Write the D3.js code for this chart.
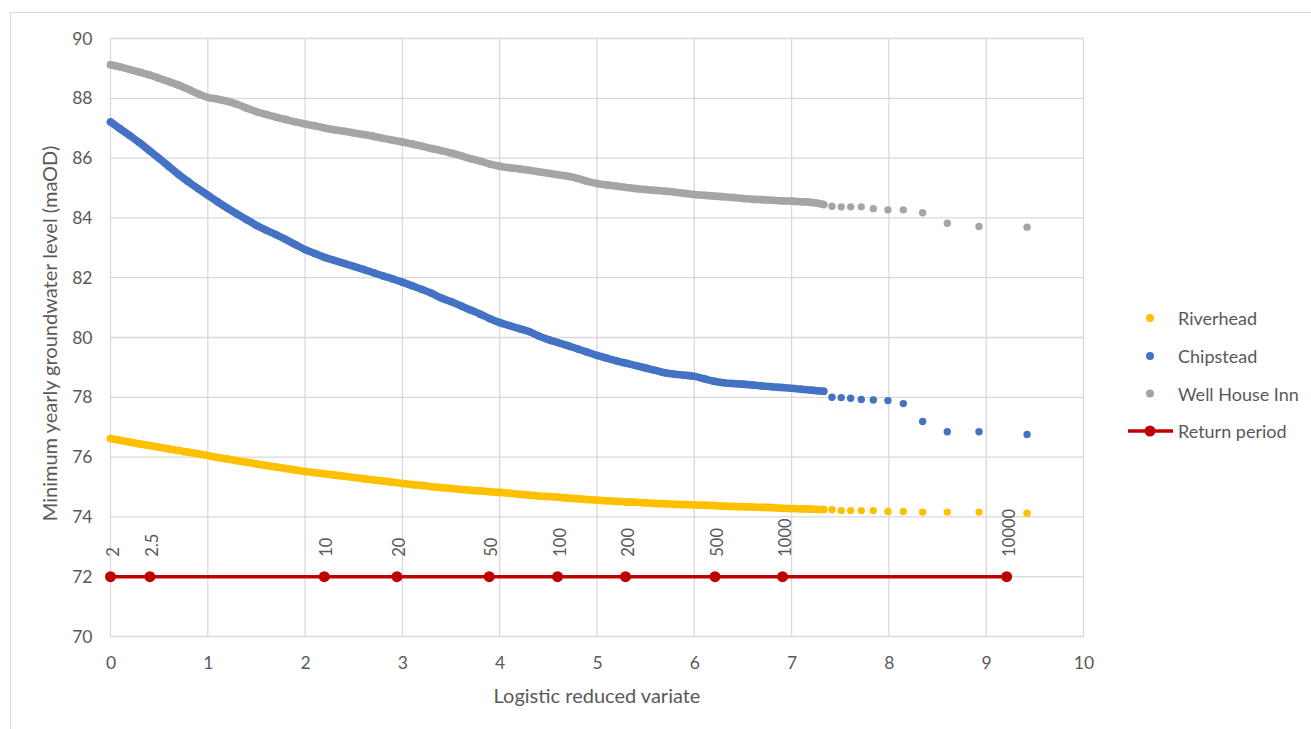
<!DOCTYPE html>
<html>
<head>
<meta charset="utf-8">
<script src="https://cdn.jsdelivr.net/npm/d3@7"></script>
<style>
    body { margin: 0; background: #fff; }
    svg { font-family: Lato, "Open Sans", sans-serif; }
</style>
</head>
<body>
<svg id="chart"></svg>
<script>
// logistic reduced variate shared by the three boreholes
const variate = [
    0, 0.1, 0.2, 0.3, 0.4, 0.5, 0.6, 0.7, 0.8, 0.9,
    1, 1.1, 1.2, 1.3, 1.4, 1.5, 1.6, 1.7, 1.8, 1.9,
    2, 2.1, 2.2, 2.3, 2.4, 2.5, 2.6, 2.7, 2.8, 2.9,
    3, 3.1, 3.2, 3.3, 3.4, 3.5, 3.6, 3.7, 3.8, 3.9,
    4, 4.1, 4.2, 4.3, 4.4, 4.5, 4.6, 4.7, 4.8, 4.9,
    5, 5.1, 5.2, 5.3, 5.4, 5.5, 5.6, 5.7, 5.8, 5.9,
    6, 6.1, 6.2, 6.3, 6.4, 6.5, 6.6, 6.7, 6.8, 6.9,
    7, 7.1, 7.2,
    7.265, 7.33,
    7.415, 7.51, 7.607, 7.716, 7.84, 7.99, 8.148, 8.347, 8.6, 8.926, 9.42
];

const riverhead = [
    76.62, 76.56, 76.50, 76.44, 76.39, 76.33, 76.27, 76.22, 76.16, 76.11,
    76.05, 75.99, 75.94, 75.88, 75.83, 75.77, 75.72, 75.67, 75.62, 75.57,
    75.52, 75.48, 75.44, 75.40, 75.36, 75.32, 75.28, 75.24, 75.20, 75.16,
    75.12, 75.08, 75.05, 75.01, 74.98, 74.95, 74.92, 74.89, 74.87, 74.84,
    74.82, 74.79, 74.76, 74.73, 74.70, 74.68, 74.66, 74.63, 74.61, 74.58,
    74.56, 74.54, 74.52, 74.50, 74.49, 74.47, 74.45, 74.44, 74.42, 74.41,
    74.40, 74.39, 74.38, 74.36, 74.35, 74.34, 74.33, 74.32, 74.31, 74.29,
    74.28, 74.27, 74.26,
    74.25, 74.25,
    74.24, 74.21, 74.21, 74.21, 74.21, 74.18, 74.18, 74.16, 74.16, 74.16, 74.12
];

const chipstead = [
    87.21, 86.98, 86.75, 86.51, 86.25, 85.99, 85.72, 85.45, 85.21, 84.98,
    84.76, 84.54, 84.33, 84.13, 83.94, 83.75, 83.59, 83.44, 83.28, 83.11,
    82.94, 82.81, 82.68, 82.58, 82.48, 82.38, 82.28, 82.17, 82.06, 81.96,
    81.85, 81.73, 81.61, 81.48, 81.32, 81.20, 81.06, 80.92, 80.78, 80.63,
    80.50, 80.40, 80.30, 80.20, 80.05, 79.93, 79.83, 79.73, 79.62, 79.51,
    79.40, 79.31, 79.22, 79.14, 79.06, 78.98, 78.90, 78.82, 78.77, 78.74,
    78.70, 78.62, 78.54, 78.49, 78.46, 78.44, 78.41, 78.38, 78.35, 78.33,
    78.30, 78.27, 78.24,
    78.22, 78.20,
    78.00, 77.99, 77.97, 77.93, 77.91, 77.89, 77.79, 77.19, 76.85, 76.85, 76.76
];

const wellHouseInn = [
    89.12, 89.05, 88.96, 88.87, 88.78, 88.67, 88.56, 88.44, 88.30, 88.15,
    88.03, 87.97, 87.90, 87.80, 87.67, 87.55, 87.46, 87.37, 87.29, 87.21,
    87.14, 87.08, 87.01, 86.95, 86.90, 86.84, 86.79, 86.73, 86.66, 86.60,
    86.54, 86.47, 86.40, 86.32, 86.25, 86.17, 86.08, 85.98, 85.90, 85.80,
    85.73, 85.68, 85.64, 85.59, 85.54, 85.49, 85.44, 85.39, 85.32, 85.22,
    85.15, 85.10, 85.06, 85.02, 84.98, 84.95, 84.92, 84.89, 84.86, 84.82,
    84.78, 84.76, 84.73, 84.71, 84.68, 84.65, 84.62, 84.61, 84.59, 84.57,
    84.56, 84.54, 84.52,
    84.49, 84.45,
    84.39, 84.37, 84.37, 84.37, 84.31, 84.27, 84.27, 84.17, 83.82, 83.71, 83.69
];

// return period markers
const returnLabels = ["2", "2.5", "10", "20", "50", "100", "200", "500", "1000", "10000"];
const returnVariates = [0, 0.405, 2.197, 2.944, 3.892, 4.595, 5.293, 6.213, 6.907, 9.21];
const returnLevel = [72, 72, 72, 72, 72, 72, 72, 72, 72, 72];

const xTicks = [0, 1, 2, 3, 4, 5, 6, 7, 8, 9, 10];
const yTicks = [70, 72, 74, 76, 78, 80, 82, 84, 86, 88, 90];

const seriesNames = ["Riverhead", "Chipstead", "Well House Inn"];
const seriesValues = [riverhead, chipstead, wellHouseInn];
const seriesColors = ["#FFC000", "#4472C4", "#A5A5A5"];
const returnColor = "#C00000";

// number of points close enough together to merge into one band
const denseCount = 75;

const width = 1311, height = 729;
const plot = { left: 110.5, right: 1083.5, top: 38.5, bottom: 636.5 };
const textColor = "#595959";
const gridColor = "#d9d9d9";

const svg = d3.select("#chart").attr("width", width).attr("height", height);

// chart border
svg.append("rect")
    .attr("x", 10.5).attr("y", 12.5)
    .attr("width", 1330).attr("height", 740)
    .attr("fill", "none").attr("stroke", gridColor);

const xScale = d3.scaleLinear().domain([0, 10]).range([plot.left, plot.right]);
const yScale = d3.scaleLinear().domain([70, 90]).range([plot.bottom, plot.top]);

// gridlines
const grid = svg.append("g");
grid.selectAll(".vgrid").data(xTicks).join("line")
    .attr("x1", d => xScale(d)).attr("x2", d => xScale(d))
    .attr("y1", plot.top).attr("y2", plot.bottom)
    .attr("stroke", gridColor).attr("stroke-width", 1.3);
grid.selectAll(".hgrid").data(yTicks).join("line")
    .attr("x1", plot.left).attr("x2", plot.right)
    .attr("y1", d => yScale(d)).attr("y2", d => yScale(d))
    .attr("stroke", gridColor).attr("stroke-width", 1.3);

// axes (labels only)
const xAxis = svg.append("g")
    .attr("transform", `translate(0, ${plot.bottom})`)
    .call(d3.axisBottom(xScale).tickValues(xTicks).tickFormat(d3.format("d")).tickSize(0).tickPadding(20));
const yAxis = svg.append("g")
    .attr("transform", `translate(${plot.left}, 0)`)
    .call(d3.axisLeft(yScale).tickValues(yTicks).tickFormat(d3.format("d")).tickSize(0).tickPadding(18));

[xAxis, yAxis].forEach(a => {
    a.select(".domain").remove();
    a.selectAll("text")
        .attr("fill", textColor)
        .style("font-size", "17.5px")
        .style("font-family", "Lato, 'Open Sans', sans-serif");
});

// axis titles
svg.append("text")
    .attr("x", (plot.left + plot.right) / 2).attr("y", 703)
    .attr("text-anchor", "middle")
    .attr("fill", textColor).style("font-size", "20px")
    .text("Logistic reduced variate");

svg.append("text")
    .attr("transform", `translate(57, ${(plot.top + plot.bottom) / 2 - 4}) rotate(-90)`)
    .attr("text-anchor", "middle")
    .attr("fill", textColor).style("font-size", "20px")
    .text("Minimum yearly groundwater level (maOD)");

// scatter series
const marks = svg.append("g");
seriesValues.forEach((values, i) => {
    const pts = variate.map((v, j) => ({ x: v, y: values[j] }));
    const g = marks.append("g");

    // dense part reads as a continuous band of overlapping dots
    g.append("path")
        .datum(pts.slice(0, denseCount))
        .attr("d", d3.line().curve(d3.curveMonotoneX).x(d => xScale(d.x)).y(d => yScale(d.y)))
        .attr("fill", "none")
        .attr("stroke", seriesColors[i])
        .attr("stroke-width", 7.6)
        .attr("stroke-linecap", "round")
        .attr("stroke-linejoin", "round");

    g.selectAll("circle").data(pts).join("circle")
        .attr("cx", d => xScale(d.x))
        .attr("cy", d => yScale(d.y))
        .attr("r", 3.7)
        .attr("fill", seriesColors[i]);
});

// return period line
const rp = returnVariates.map((v, i) => ({ x: v, y: returnLevel[i], label: returnLabels[i] }));
const rpGroup = svg.append("g");
rpGroup.append("path")
    .datum(rp)
    .attr("d", d3.line().x(d => xScale(d.x)).y(d => yScale(d.y)))
    .attr("fill", "none")
    .attr("stroke", returnColor)
    .attr("stroke-width", 3.5);
rpGroup.selectAll("circle").data(rp).join("circle")
    .attr("cx", d => xScale(d.x))
    .attr("cy", d => yScale(d.y))
    .attr("r", 5.5)
    .attr("fill", returnColor);
rpGroup.selectAll("text").data(rp).join("text")
    .attr("transform", d => `translate(${xScale(d.x) + 2}, ${yScale(d.y) - 20}) rotate(-90)`)
    .attr("dominant-baseline", "central")
    .attr("fill", textColor)
    .style("font-size", "16.5px")
    .text(d => d.label);

// legend
const legend = svg.append("g").attr("transform", "translate(1150, 0)");
const legendRows = [318, 356, 393.5, 431];
seriesNames.forEach((name, i) => {
    legend.append("circle")
        .attr("cx", 0).attr("cy", legendRows[i])
        .attr("r", 4).attr("fill", seriesColors[i]);
    legend.append("text")
        .attr("x", 28).attr("y", legendRows[i])
        .attr("dominant-baseline", "central")
        .attr("fill", textColor).style("font-size", "18px")
        .text(name);
});
legend.append("line")
    .attr("x1", -22).attr("x2", 23)
    .attr("y1", legendRows[3]).attr("y2", legendRows[3])
    .attr("stroke", returnColor).attr("stroke-width", 3.5);
legend.append("circle")
    .attr("cx", 0).attr("cy", legendRows[3])
    .attr("r", 5.5).attr("fill", returnColor);
legend.append("text")
    .attr("x", 28).attr("y", legendRows[3])
    .attr("dominant-baseline", "central")
    .attr("fill", textColor).style("font-size", "18px")
    .text("Return period");
</script>
</body>
</html>
